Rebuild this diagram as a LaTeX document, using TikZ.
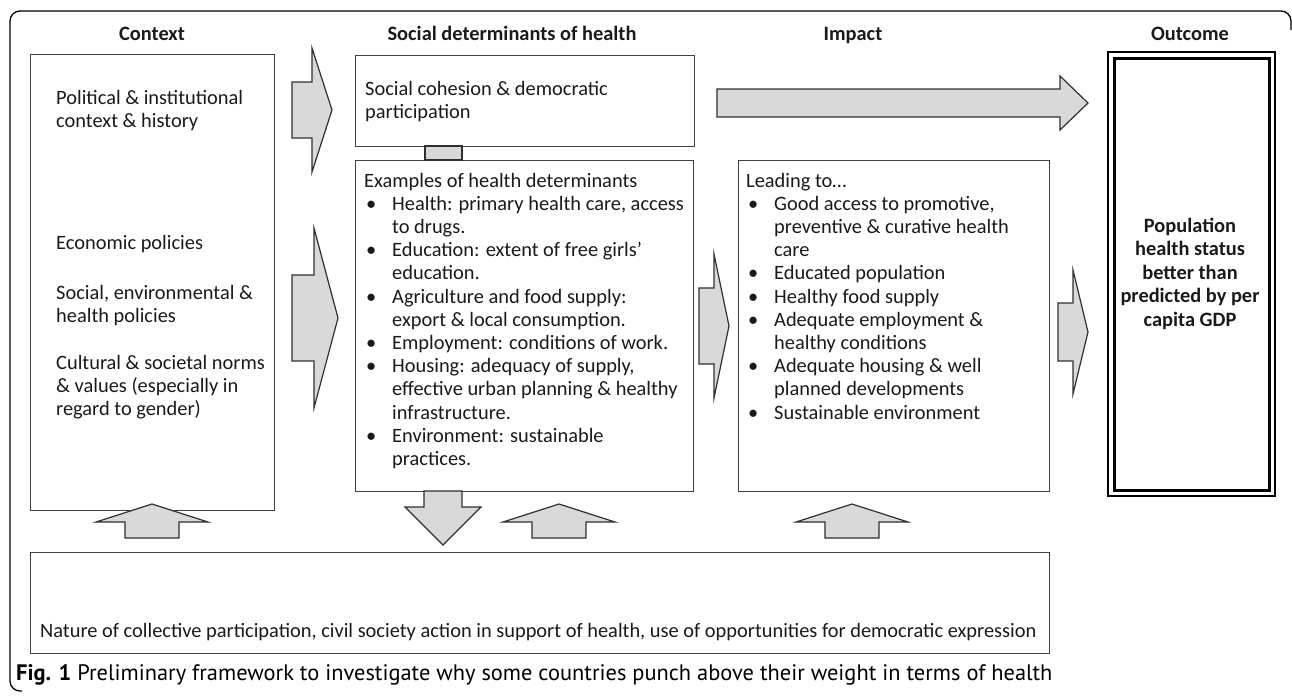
\documentclass[tikz,border=0pt]{standalone}
\usepackage{fontspec}
\setmainfont{Carlito}
\newfontfamily\capfont{PT Sans}
\definecolor{boxgray}{HTML}{404040}
\definecolor{arrowedge}{HTML}{303030}
\definecolor{arrowfill}{HTML}{D9D9D9}
\definecolor{textcol}{HTML}{1A1A1A}
\newcommand\bi[1]{\makebox[28pt][l]{\hspace{2pt}•}#1}
\newcommand\bc[1]{\hspace*{28pt}#1}
\newcommand\ml[1]{\begin{tabular}[t]{@{}l@{}}#1\end{tabular}}
\newcommand\mc[1]{\begin{tabular}[t]{@{}c@{}}#1\end{tabular}}
% right block arrow: x0, xh, xt, yc, shaft half, head half
\newcommand\rblk[6]{\filldraw[blk] (#1,#4-#5) -- (#2,#4-#5) -- (#2,#4-#6) -- (#3,#4) -- (#2,#4+#6) -- (#2,#4+#5) -- (#1,#4+#5) -- cycle;}
% up block arrow: cx, tip, base, bottom, shaft half, head half
\newcommand\ublk[6]{\filldraw[blk] (#1-#5,#4) -- (#1-#5,#3) -- (#1-#6,#3) -- (#1,#2) -- (#1+#6,#3) -- (#1+#5,#3) -- (#1+#5,#4) -- cycle;}
\begin{document}
\begin{tikzpicture}[x=1pt,y=-1pt,
  box/.style={draw=boxgray, line width=1.3pt, fill=white, inner sep=0pt, anchor=north west},
  blk/.style={draw=arrowedge, fill=arrowfill, line width=1.2pt, line join=miter},
  txt/.style={inner sep=0pt, anchor=base west, font=\fontsize{20.4}{23.2}\selectfont, text=textcol},
  hdr/.style={inner sep=0pt, anchor=base, font=\bfseries\fontsize{20.4}{24}\selectfont, text=textcol}]
\useasboundingbox (0,0) rectangle (1292,697);
% outer frame
\draw[line width=1.3pt, rounded corners=10pt] (22,691) -- (10,691) -- (10,11) -- (1291,11) -- (1291,30);
% headers
\node[hdr] (hctx) at (152,40.5) {Context};
\node[hdr] (hsdh) at (512,40.5) {Social determinants of health};
\node[hdr] (himp) at (853,40.5) {Impact};
\node[hdr] (hout) at (1190,40.5) {Outcome};
% boxes
\node[box, minimum width=244pt, minimum height=456pt] (ctx) at (30,54) {};
\node[box, minimum width=339pt, minimum height=91pt] (soc) at (355,55) {};
\node[box, minimum width=338pt, minimum height=331pt] (det) at (355,160) {};
\node[box, minimum width=311pt, minimum height=331pt] (imp) at (738,160) {};
\node[box, minimum width=1019pt, minimum height=101pt] (bot) at (30,552) {};
\node[anchor=north west, draw=black, line width=2pt, inner sep=0pt, minimum width=167pt, minimum height=444pt] (outo) at (1107,51) {};
\node[anchor=north west, draw=black, line width=3pt, inner sep=0pt, minimum width=155pt, minimum height=432pt] (outi) at (1113,57) {};
% link between social cohesion and determinants
\filldraw[blk] (425,146) rectangle (462,160);
% block arrows
\rblk{292}{312}{332}{110}{28}{62}
\rblk{292}{314}{338}{318}{43}{90}
\rblk{699}{714}{729}{326}{38}{72}
\rblk{717}{1060}{1088}{103}{14}{27}
\rblk{1058}{1073}{1088}{332}{29}{62}
\ublk{152}{504}{522}{538}{27}{56}
\ublk{559}{504}{522}{538}{27}{56}
\ublk{852}{504}{522}{538}{27}{56}
\filldraw[blk] (424,491) -- (424,507) -- (405,507) -- (443,545) -- (481,507) -- (462,507) -- (462,491) -- cycle;
% texts
\node[txt] (t1) at (56,104) {\ml{Political \& institutional\\context \& history}};
\node[txt] (t2) at (56,249) {Economic policies};
\node[txt] (t3) at (56,299) {\ml{Social, environmental \&\\health policies}};
\node[txt] (t4) at (56,369) {\ml{Cultural \& societal norms\\\& values (especially in\\regard to gender)}};
\node[txt] (tsoc) at (365,95) {\ml{Social cohesion \& democratic\\participation}};
\node[txt] (tdet) at (364,187) {\ml{Examples of health determinants\\
\bi{Health: primary health care, access}\\
\bc{to drugs.}\\
\bi{Education: extent of free girls’}\\
\bc{education.}\\
\bi{Agriculture and food supply:}\\
\bc{export \& local consumption.}\\
\bi{Employment: conditions of work.}\\
\bi{Housing: adequacy of supply,}\\
\bc{effective urban planning \& healthy}\\
\bc{infrastructure.}\\
\bi{Environment: sustainable}\\
\bc{practices.}}};
\node[txt] (timp) at (746,187) {\ml{Leading to…\\
\bi{Good access to promotive,}\\
\bc{preventive \& curative health}\\
\bc{care}\\
\bi{Educated population}\\
\bi{Healthy food supply}\\
\bi{Adequate employment \&}\\
\bc{healthy conditions}\\
\bi{Adequate housing \& well}\\
\bc{planned developments}\\
\bi{Sustainable environment}}};
\node[txt, anchor=base, font=\bfseries\fontsize{20.4}{23.5}\selectfont] (tout) at (1190,232) {\mc{Population\\health status\\better than\\predicted by per\\capita GDP}};
\node[txt] (tbot) at (40,637) {Nature of collective participation, civil society action in support of health, use of opportunities for democratic expression};
\node[txt, font=\capfont\fontsize{22.4}{26}\selectfont, text=black] (cap) at (16,680) {\textbf{Fig. 1} Preliminary framework to investigate why some countries punch above their weight in terms of health};
\end{tikzpicture}
\end{document}
